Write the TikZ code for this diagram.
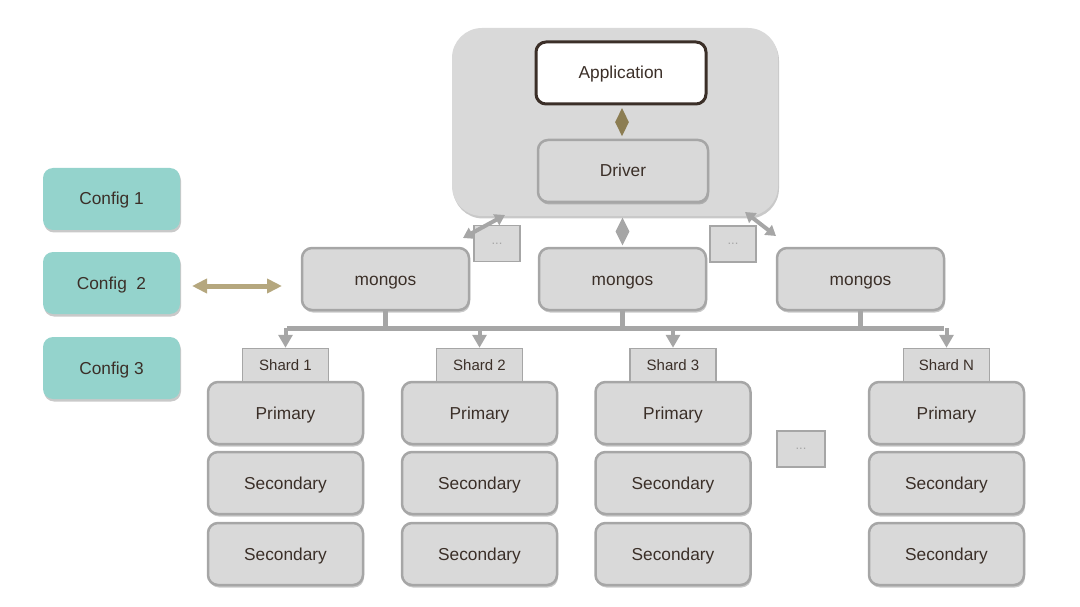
\documentclass[tikz,border=0pt]{standalone}
\usepackage{fontspec}
\setmainfont{Liberation Sans}
\usetikzlibrary{arrows.meta,shapes.geometric,shadows}

\definecolor{boxgray}{HTML}{D9D9D9}
\definecolor{linegray}{HTML}{A6A6A6}
\definecolor{textbrown}{HTML}{3B2F28}
\definecolor{configteal}{HTML}{94D3CC}
\definecolor{olivetip}{HTML}{8C7D52}
\definecolor{tanarrow}{HTML}{B5A77E}

\tikzset{
  softshadow/.style={drop shadow={shadow xshift=1pt, shadow yshift=-2.5pt, opacity=0.3, fill=black!70}},
  mainfont/.style={font=\fontsize{17.3}{20}\selectfont, text=textbrown, text height=12.5pt, text depth=0.5pt},
  graybox/.style={mainfont, rectangle, rounded corners=10pt, fill=boxgray, draw=linegray, line width=2.5pt, minimum width=#1, minimum height=62pt, softshadow},
  graybox/.default=155pt,
  configbox/.style={mainfont, rectangle, rounded corners=10pt, fill=configteal, minimum width=137pt, minimum height=62pt, softshadow},
  shardtag/.style={font=\fontsize{15}{18}\selectfont, text=textbrown, text height=11pt, text depth=0.5pt, rectangle, fill=boxgray, draw=linegray, line width=1.5pt, minimum width=86pt, minimum height=33pt},
  dotsbox/.style={font=\fontsize{13}{14}\selectfont, text=linegray, rectangle, fill=boxgray, draw=linegray, line width=1.5pt, minimum width=46pt, minimum height=36pt},
  linktip/.style={diamond, fill=#1, minimum width=14pt, minimum height=28pt, inner sep=0pt},
  twoway/.style={{Triangle[width=12pt,length=10pt]}-{Triangle[width=12pt,length=10pt]}, draw=linegray, line width=4pt},
  bus/.style={draw=linegray, line width=5pt},
  drop/.style={-{Triangle[width=14pt,length=13pt]}, draw=linegray, line width=4pt},
}

\begin{document}
\begin{tikzpicture}[x=1pt, y=-1pt]
  \useasboundingbox (0,0) rectangle (1080,607);

  % client side
  \node[rectangle, rounded corners=30pt, fill=boxgray, minimum width=326pt, minimum height=188pt, softshadow] (client) at (615,122) {};
  \node[mainfont, rectangle, rounded corners=10pt, fill=white, draw=textbrown, line width=3pt, minimum width=170pt, minimum height=62pt] (app) at (621,73) {Application};
  \node[graybox=170pt, drop shadow={opacity=0}] (driver) at (623,171) {Driver};
  \path (app.south) -- node[linktip=olivetip]{} (driver.north);

  % config servers
  \node[configbox] (cfg1) at (111.5,199) {Config 1};
  \node[configbox] (cfg2) at (111.5,283) {Config\ \ 2};
  \node[configbox] (cfg3) at (111.5,368) {Config 3};

  % routers
  \node[graybox=167pt] (mg1) at (385.5,279) {mongos};
  \node[graybox=167pt] (mg2) at (622.5,279) {mongos};
  \node[graybox=167pt] (mg3) at (860.5,279) {mongos};
  \node[dotsbox] (gap1) at (497,243.5) {...};
  \node[dotsbox] (gap2) at (733,244) {...};

  \coordinate (cl) at (505,215);
  \coordinate (cr) at (745,212);
  \coordinate (ml) at (463,238);
  \coordinate (mr) at (776,236);
  \draw[twoway] (cl) -- (ml);
  \draw[twoway] (cr) -- (mr);
  \path (client.south -| mg2) -- node[linktip=linegray]{} (mg2.north);

  \coordinate (cfgend) at (192,286);
  \coordinate (mgend) at (282,286);
  \draw[{Triangle[width=14pt,length=15pt]}-{Triangle[width=14pt,length=15pt]}, draw=tanarrow, line width=5pt] (cfgend) -- (mgend);

  % shards
  \foreach \col/\x/\tag in {1/285.5/Shard 1, 2/479.5/Shard 2, 3/673/Shard 3, 4/946.5/Shard N} {
    \node[graybox] (pri\col) at (\x,413) {Primary};
    \node[graybox] (secA\col) at (\x,483) {Secondary};
    \node[graybox] (secB\col) at (\x,554) {Secondary};
    \node[shardtag, anchor=south, yshift=-1.5pt] (sh\col) at (pri\col.north) {\tag};
  }
  \node[dotsbox, minimum width=48pt] (gap3) at (801,449) {...};

  % bus
  \coordinate (busL) at (287,328);
  \coordinate (busR) at (944,328);
  \draw[bus] (busL) -- (busR);
  \foreach \m in {mg1,mg2,mg3}
    \draw[bus] (\m.south) -- (\m.south |- busL);
  \foreach \s in {sh1,sh2,sh3,sh4}
    \draw[drop] (\s.north |- busL) -- (\s.north);
\end{tikzpicture}
\end{document}
